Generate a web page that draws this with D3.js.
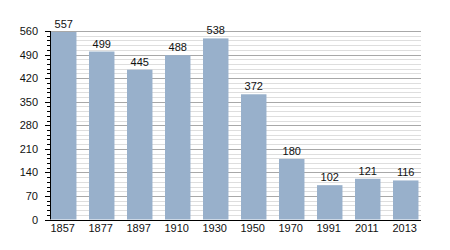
<!DOCTYPE html>
<html>
<head>
<meta charset="utf-8">
<script src="https://cdn.jsdelivr.net/npm/d3@7"></script>
<style>
  body { margin: 0; background: #fff; }
  text { font-family: "Liberation Sans", Arial, sans-serif; font-size: 11px; fill: #111; }
</style>
</head>
<body>
<script>
var w = 450;
var h = 250;

// Data
var years = ["1857", "1877", "1897", "1910", "1930", "1950", "1970", "1991", "2011", "2013"];
var population = [557, 499, 445, 488, 538, 372, 180, 102, 121, 116];
var yTicks = [0, 70, 140, 210, 280, 350, 420, 490, 560];

var svg = d3.select("body")
    .append("svg")
    .attr("width", w)
    .attr("height", h);

// Scales
var x = d3.scaleBand()
    .domain(years)
    .range([51, 431])
    .paddingInner(0.33)
    .paddingOuter(0.165)
    .align(0);

var y = d3.scaleLinear()
    .domain([0, 560])
    .range([219.5, 31]);

var gridLeft = 50, gridRight = 421;

// Minor grid lines every 14
var minor = d3.range(14, 560, 14).filter(function(d) { return d % 70 !== 0; });
svg.selectAll("line.minor")
    .data(minor)
    .enter().append("line")
    .attr("x1", gridLeft).attr("x2", gridRight)
    .attr("y1", function(d) { return Math.round(y(d)) + 0.5; })
    .attr("y2", function(d) { return Math.round(y(d)) + 0.5; })
    .attr("stroke", "#dedede")
    .attr("stroke-width", 1);

// Major grid lines
svg.selectAll("line.major")
    .data(yTicks.slice(1))
    .enter().append("line")
    .attr("x1", gridLeft).attr("x2", gridRight)
    .attr("y1", function(d) { return Math.round(y(d)) + 0.5; })
    .attr("y2", function(d) { return Math.round(y(d)) + 0.5; })
    .attr("stroke", "#a8a8a8")
    .attr("stroke-width", 1);

// Bars
svg.selectAll("rect.bar")
    .data(population)
    .enter().append("rect")
    .attr("x", function(d, i) { return x(years[i]); })
    .attr("y", function(d) { return y(d); })
    .attr("width", x.bandwidth())
    .attr("height", function(d) { return y(0) - y(d); })
    .attr("fill", "#98b0cb");

// Value labels
svg.selectAll("text.val")
    .data(population)
    .enter().append("text")
    .attr("x", function(d, i) { return x(years[i]) + x.bandwidth() / 2; })
    .attr("y", function(d) { return y(d) - 4; })
    .attr("text-anchor", "middle")
    .text(function(d) { return d; });

// Y axis with minor ticks
svg.append("line")
    .attr("x1", 50.5).attr("x2", 50.5)
    .attr("y1", y(560)).attr("y2", y(0))
    .attr("stroke", "#000");

svg.selectAll("line.ytick")
    .data(d3.range(0, 561, 14))
    .enter().append("line")
    .attr("x1", function(d) { return d % 70 === 0 ? 45 : 47; })
    .attr("x2", 50)
    .attr("y1", function(d) { return Math.round(y(d)) + 0.5; })
    .attr("y2", function(d) { return Math.round(y(d)) + 0.5; })
    .attr("stroke", "#000");

svg.selectAll("text.ylab")
    .data(yTicks)
    .enter().append("text")
    .attr("x", 38)
    .attr("y", function(d) { return y(d) + 4; })
    .attr("text-anchor", "end")
    .text(function(d) { return d; });

// X axis
svg.append("line")
    .attr("x1", 50).attr("x2", gridRight)
    .attr("y1", Math.round(y(0)) + 0.5).attr("y2", Math.round(y(0)) + 0.5)
    .attr("stroke", "#000");

svg.selectAll("text.xlab")
    .data(years)
    .enter().append("text")
    .attr("x", function(d) { return x(d) + x.bandwidth() / 2 - 1; })
    .attr("y", 232)
    .attr("text-anchor", "middle")
    .text(function(d) { return d; });
</script>
</body>
</html>
